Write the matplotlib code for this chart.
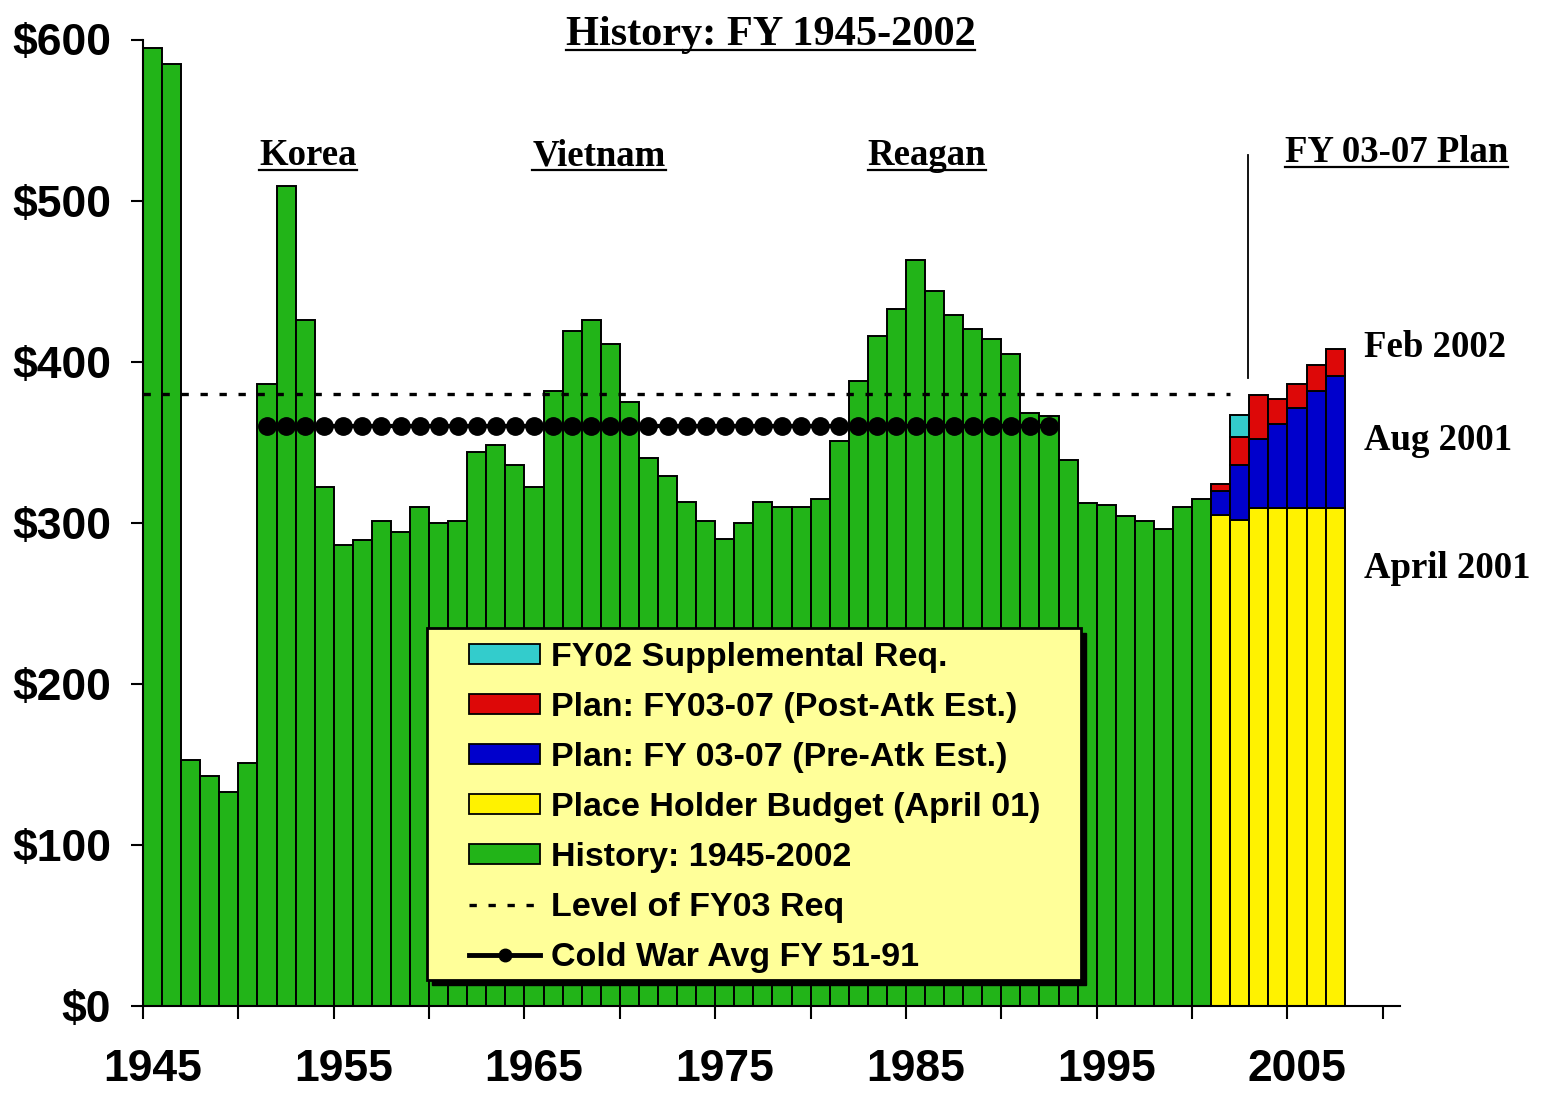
import matplotlib
matplotlib.use('Agg')
import matplotlib.pyplot as plt
from matplotlib.patches import Patch, Rectangle
from matplotlib.lines import Line2D
import numpy as np

# History FY 1945-2000 (green bars)
hist_years = list(range(1945, 2001))
hist_values = [595, 585, 153, 143, 133, 151, 386, 509, 426, 322,
               286, 289, 301, 294, 310, 300, 301, 344, 348, 336,
               322, 382, 419, 426, 411, 375, 340, 329, 313, 301,
               290, 300, 313, 310, 310, 315, 351, 388, 416, 433,
               463, 444, 429, 420, 414, 405, 368, 366, 339, 312,
               311, 304, 301, 296, 310, 315]

# Plan years, stacked segments
plan_years = list(range(2001, 2008))
placeholder = [305, 302, 309, 309, 309, 309, 309]
pre_atk = [15, 34, 43, 52, 62, 73, 82]
post_atk = [4, 17, 27, 16, 15, 16, 17]
supplemental = [0, 14, 0, 0, 0, 0, 0]

fy03_level = 380
fy03_span = (1945, 2002)
cold_war_avg = 360
cold_war_years = list(range(1951, 1993))

tick_years = [1945, 1955, 1965, 1975, 1985, 1995, 2005]
y_ticks = [0, 100, 200, 300, 400, 500, 600]
y_labels = ['$%d' % v for v in y_ticks]

green = '#22B418'
yellow = '#FFF200'
blue = '#0000CC'
red = '#DD0808'
cyan = '#33CCCC'

sans = 'Liberation Sans'
serif = 'Liberation Serif'

fig = plt.figure(figsize=(15.43, 10.95), dpi=100)
ax = fig.add_axes([143 / 1543, 1 - 1006 / 1095, 1257 / 1543, 966.5 / 1095])

bar_kw = dict(width=1, align='edge', edgecolor='black', linewidth=1.4, zorder=2)
ax.bar(hist_years, hist_values, color=green, **bar_kw)
bottom = np.zeros(len(plan_years))
for vals, col in [(placeholder, yellow), (pre_atk, blue), (post_atk, red), (supplemental, cyan)]:
    vals = np.array(vals, dtype=float)
    m = vals > 0
    ax.bar(np.array(plan_years)[m], vals[m], bottom=bottom[m], color=col, **bar_kw)
    bottom += vals

ax.hlines(fy03_level, fy03_span[0], fy03_span[1], colors='black', linewidth=2.4,
          linestyles=(0, (2.2, 3.5)), zorder=3)
ax.plot([y + 0.5 for y in cold_war_years], [cold_war_avg] * len(cold_war_years),
        color='black', linewidth=3, marker='o', markersize=12.5, zorder=3)

# vertical separator for the plan years
ax.plot([2002.95, 2002.95], [390, 528], color='black', linewidth=1.3, clip_on=False, zorder=3)

ax.set_xlim(1945, 2010.9)
ax.set_ylim(0, 600)
for s in ['top', 'right']:
    ax.spines[s].set_visible(False)
for s in ['left', 'bottom']:
    ax.spines[s].set_linewidth(1.5)

ax.set_xticks(np.arange(1945, 2011, 5))
ax.set_xticklabels([])
ax.set_xticks([y + 0.5 for y in tick_years], labels=[str(y) for y in tick_years], minor=True)
ax.tick_params(axis='x', which='major', length=9, width=1.5, direction='out')
ax.tick_params(axis='x', which='minor', length=0, pad=31)
ax.set_yticks(y_ticks, labels=y_labels)
ax.tick_params(axis='y', length=9, width=1.5, direction='out', pad=14)
for lab in ax.get_xticklabels(minor=True) + ax.get_yticklabels():
    lab.set_fontfamily(sans)
    lab.set_fontweight('bold')
    lab.set_fontsize(32)

# annotations (underlined ones collected)
underlined = []
t = ax.text(1977.9, 596.5, 'History: FY 1945-2002', ha='center', va='baseline',
            family=serif, weight='bold', fontsize=30.5)
underlined.append((t, 596.5))
for label, x in [('Korea', 1953.65), ('Vietnam', 1968.9), ('Reagan', 1986.1)]:
    t = ax.text(x, 522, label, ha='center', va='baseline', family=serif,
                weight='bold', fontsize=26.5)
    underlined.append((t, 522))
t = ax.text(2010.7, 524, 'FY 03-07 Plan', ha='center', va='baseline', family=serif,
            weight='bold', fontsize=26.5)
underlined.append((t, 524))
for label, yv in [('Feb 2002', 403), ('Aug 2001', 345), ('April 2001', 265.5)]:
    ax.text(2009.0, yv, label, ha='left', va='baseline', family=serif,
            weight='bold', fontsize=26.5)

# legend box with black drop shadow
box = (427 / 1543, 1 - 980 / 1095, 654 / 1543, 352 / 1095)
fig.patches.append(Rectangle((box[0] + 5 / 1543, box[1] - 5 / 1095), box[2], box[3],
                             transform=fig.transFigure, facecolor='black',
                             edgecolor='black', zorder=3))
fig.patches.append(Rectangle(box[:2], box[2], box[3], transform=fig.transFigure,
                             facecolor='#FFFF99', edgecolor='black', linewidth=2, zorder=3.1))

handles = [
    Patch(facecolor=cyan, edgecolor='black', linewidth=1.3, label='FY02 Supplemental Req.'),
    Patch(facecolor=red, edgecolor='black', linewidth=1.3, label='Plan: FY03-07 (Post-Atk Est.)'),
    Patch(facecolor=blue, edgecolor='black', linewidth=1.3, label='Plan: FY 03-07 (Pre-Atk Est.)'),
    Patch(facecolor=yellow, edgecolor='black', linewidth=1.3, label='Place Holder Budget (April 01)'),
    Patch(facecolor=green, edgecolor='black', linewidth=1.3, label='History: 1945-2002'),
    Line2D([], [], color='black', linewidth=2.4, linestyle=(0, (2.2, 3.5)), label='Level of FY03 Req'),
    Line2D([], [], color='black', linewidth=3.5, marker='o', markersize=9, label='Cold War Avg FY 51-91'),
]
leg = fig.legend(handles=handles, loc='upper left', bbox_to_anchor=(469 / 1543, 1 - 642 / 1095),
                 frameon=False, borderpad=0, borderaxespad=0, handlelength=2.1, handleheight=0.53,
                 handletextpad=0.3, labelspacing=0.56, numpoints=1,
                 prop={'family': sans, 'weight': 'bold', 'size': 24.5})
leg.set_zorder(4)

fig.canvas.draw()
r = fig.canvas.get_renderer()
inv = fig.transFigure.inverted()
for t, yv in underlined:
    bb = t.get_window_extent(r)
    ypix = ax.transData.transform((1980, yv))[1] - 5
    (x0, y0), (x1, _) = inv.transform([(bb.x0, ypix), (bb.x1, ypix)])
    fig.add_artist(Line2D([x0, x1], [y0, y0], color='black', linewidth=1.6))

fig.savefig('out.png', dpi=100)
